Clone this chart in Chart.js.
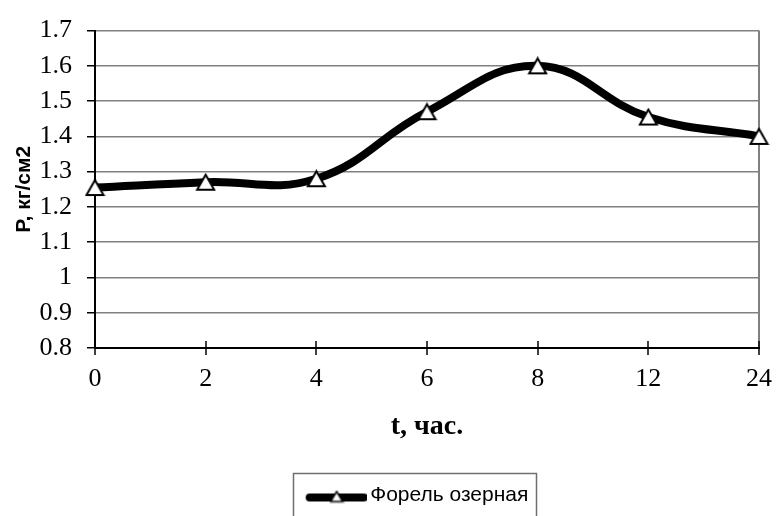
<!DOCTYPE html>
<html>
<head>
<meta charset="utf-8">
<script src="https://cdn.jsdelivr.net/npm/chart.js@4.4.1/dist/chart.umd.min.js"></script>
<style>
  html, body { margin: 0; padding: 0; background: #fff; }
  #wrap { width: 777px; height: 516px; }
</style>
</head>
<body>
<div id="wrap"><canvas id="chart" width="777" height="516"></canvas></div>
<script>
// Sampling times (hours) and measured pressure
const hours = ['0', '2', '4', '6', '8', '12', '24'];
const pressure = [1.255, 1.27, 1.28, 1.47, 1.6, 1.455, 1.40];
const yRange = [0.8, 1.7];
const yStep = 0.1;
const seriesName = 'Форель озерная';
const xTitle = 't, час.';
const yTitle = 'P, кг/см2';

// Hollow triangle marker, bounding box centred on the point
function triangleMarker(base, lw) {
  const h = Math.round(base * 0.87);
  const c = document.createElement('canvas');
  c.width = base + lw * 2;
  c.height = h + lw * 2;
  const g = c.getContext('2d');
  g.beginPath();
  g.moveTo(c.width / 2, lw);
  g.lineTo(c.width - lw, c.height - lw);
  g.lineTo(lw, c.height - lw);
  g.closePath();
  g.fillStyle = '#fff';
  g.fill();
  g.lineWidth = lw;
  g.strokeStyle = '#000';
  g.stroke();
  return c;
}

// Legend sample: thick line with a small triangle on it
function legendSample() {
  const c = document.createElement('canvas');
  c.width = 66; c.height = 18;
  const g = c.getContext('2d');
  g.lineCap = 'round';
  g.lineWidth = 8;
  g.strokeStyle = '#000';
  g.beginPath();
  g.moveTo(9, 11); g.lineTo(63, 11);
  g.stroke();
  const t = triangleMarker(12, 1.5);
  g.drawImage(t, 36 - t.width / 2, 10 - t.height / 2);
  return c;
}

const pointMarker = triangleMarker(17, 2);
const legendMarker = legendSample();

// Legend sits a little right of the canvas centre
const legendShift = 37;

const extras = {
  id: 'extras',
  afterLayout(chart) {
    const lg = chart.legend;
    if (lg) { lg.left += legendShift; lg.right += legendShift; }
  },
  afterDraw(chart) {
    const ctx = chart.ctx;
    const xs = chart.scales.x;
    const area = chart.chartArea;
    ctx.save();
    // x ticks cross the axis line
    ctx.strokeStyle = '#000';
    ctx.lineWidth = 1.5;
    xs.ticks.forEach((t, i) => {
      const px = Math.round(xs.getPixelForTick(i));
      ctx.beginPath();
      ctx.moveTo(px, area.bottom - 7);
      ctx.lineTo(px, area.bottom);
      ctx.stroke();
    });
    // frame round the legend
    const lg = chart.legend;
    if (lg && lg.legendHitBoxes && lg.legendHitBoxes.length) {
      const hb = lg.legendHitBoxes[0];
      ctx.strokeStyle = '#6f6f6f';
      ctx.lineWidth = 1.5;
      ctx.strokeRect(Math.round(hb.left - 15) + 0.5, Math.round(hb.top - 12) + 0.5,
                     Math.round(hb.width + 22), 60);
    }
    ctx.restore();
  }
};

new Chart(document.getElementById('chart'), {
  type: 'line',
  data: {
    labels: hours,
    datasets: [{
      label: seriesName,
      data: pressure,
      borderColor: '#000',
      backgroundColor: '#fff',
      borderWidth: 8,
      tension: 0.42,
      borderCapStyle: 'round',
      borderJoinStyle: 'round',
      pointStyle: pointMarker,
      pointRadius: 10,
      pointHoverRadius: 10,
      fill: false,
      clip: false
    }]
  },
  options: {
    responsive: false,
    animation: false,
    devicePixelRatio: 1,
    events: [],
    layout: { padding: { top: 24, right: 15, left: 0, bottom: 0 } },
    plugins: {
      tooltip: { enabled: false },
      legend: {
        position: 'bottom',
        labels: {
          usePointStyle: true,
          pointStyleWidth: 52,
          boxHeight: 21,
          padding: 0,
          color: '#000',
          font: { family: 'Liberation Sans', size: 21 },
          generateLabels(chart) {
            return chart.data.datasets.map((d, i) => ({
              text: d.label,
              pointStyle: legendMarker,
              fillStyle: '#000',
              strokeStyle: '#000',
              lineWidth: 0,
              hidden: false,
              datasetIndex: i,
              fontColor: '#000'
            }));
          }
        }
      }
    },
    scales: {
      x: {
        offset: false,
        grid: {
          drawOnChartArea: true,
          color: (c) => (c.index === hours.length - 1 ? '#808080' : 'rgba(0,0,0,0)'),
          lineWidth: 2,
          tickLength: 7,
          tickColor: '#000',
          tickWidth: 1.5
        },
        border: { display: true, color: '#000', width: 2 },
        ticks: {
          color: '#000',
          padding: 9,
          maxRotation: 0,
          font: { family: 'Liberation Serif', size: 26 }
        },
        title: {
          display: true,
          text: xTitle,
          color: '#000',
          font: { family: 'Liberation Serif', size: 28, weight: 'bold' },
          padding: { top: 0, bottom: 41 }
        },
        afterFit(s) {
          s.height = 137;
          s.paddingLeft = 0;
          s.paddingRight = 0;
        }
      },
      y: {
        min: yRange[0],
        max: yRange[1],
        ticks: {
          stepSize: yStep,
          color: '#000',
          padding: 15,
          font: { family: 'Liberation Serif', size: 26 },
          callback: (v) => String(Number(v.toFixed(1)))
        },
        grid: {
          color: '#808080',
          lineWidth: 1.5,
          tickLength: 8,
          tickColor: '#000',
          tickWidth: 1.5
        },
        border: { display: true, color: '#000', width: 2 },
        title: {
          display: true,
          text: yTitle,
          color: '#000',
          font: { family: 'Liberation Sans', size: 21, weight: 'bold' },
          padding: { top: 12, bottom: 0 }
        },
        afterFit(s) { s.width = 95; }
      }
    }
  },
  plugins: [extras]
});
</script>
</body>
</html>
